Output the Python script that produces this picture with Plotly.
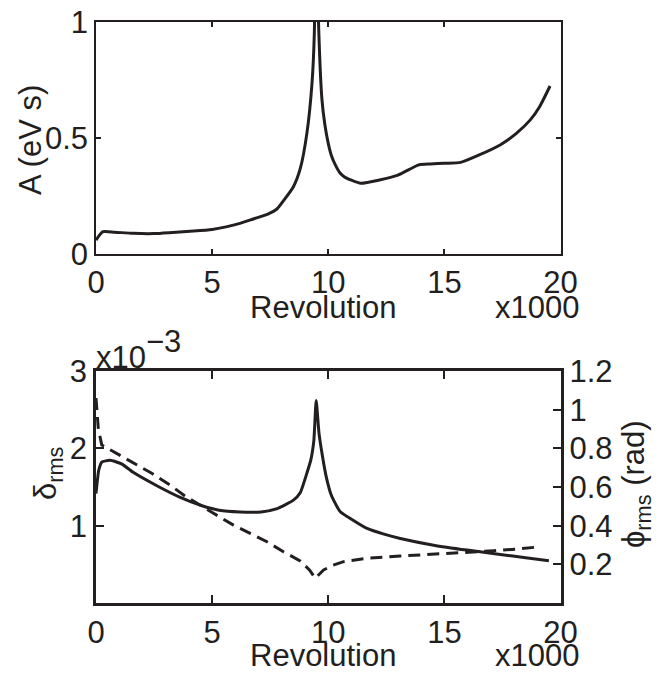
import plotly.graph_objects as go

# ---- data (revolution in units of 1000) ----
rev_A = [0, 0.3, 0.8, 1.6, 2.5, 3.3, 4.2, 5.0, 5.6, 6.2, 6.8, 7.4, 7.8, 8.1, 8.5, 8.8,
         9.08, 9.3, 9.4, 9.48, 9.58, 9.73, 9.85, 10.0, 10.15, 10.3, 10.5, 10.7, 11.0,
         11.4, 12.2, 13.0, 13.9, 14.4, 15.0, 15.7, 16.5, 17.4, 18.1, 18.7, 19.1, 19.55]
A_eVs = [0.06, 0.096, 0.094, 0.089, 0.088, 0.093, 0.099, 0.106, 0.117, 0.132, 0.152,
         0.172, 0.195, 0.233, 0.29, 0.37, 0.52, 0.735, 0.95, 1.6, 1.0, 0.664, 0.56,
         0.477, 0.42, 0.385, 0.35, 0.332, 0.318, 0.305, 0.319, 0.34, 0.384, 0.388,
         0.391, 0.395, 0.427, 0.47, 0.52, 0.578, 0.635, 0.724]

rev_delta = [0, 0.12, 0.25, 0.6, 1.1, 1.6, 2.6, 3.6, 4.6, 5.3, 6.2, 7.1, 7.8, 8.5, 8.8,
             9.05, 9.25, 9.38, 9.48, 9.6, 9.75, 9.9, 10.1, 10.23, 10.52, 10.95, 11.67,
             12.4, 13.1, 14.54, 15.98, 17.41, 18.5, 19.5]
delta_rms_e3 = [1.415, 1.72, 1.823, 1.845, 1.80, 1.69, 1.52, 1.37, 1.255, 1.2, 1.178,
                1.178, 1.22, 1.33, 1.43, 1.65, 1.85, 2.1, 2.62, 2.2, 1.9, 1.65, 1.42,
                1.33, 1.18, 1.093, 0.964, 0.89, 0.835, 0.748, 0.684, 0.628, 0.585, 0.546]

rev_phi = [0, 0.1, 0.25, 0.75, 1.61, 2.4, 3.19, 3.84, 5.06, 5.92, 6.64, 7.36, 8.07, 8.79,
           9.2, 9.44, 9.8, 10.2, 10.66, 11.67, 13.1, 14.54, 15.69, 17.13, 18.2, 19.14]
phi_rms = [1.06, 0.9, 0.817, 0.783, 0.726, 0.671, 0.61, 0.553, 0.464, 0.403, 0.36, 0.317,
           0.265, 0.218, 0.17, 0.128, 0.171, 0.195, 0.214, 0.231, 0.243, 0.252, 0.26,
           0.27, 0.28, 0.291]

x_ticks = [0, 5, 10, 15, 20]
A_ticks = [0, 0.5, 1]
A_ticktext = ["0", "0.5", "1"]
delta_ticks = [1, 2, 3]
phi_ticks = [0.2, 0.4, 0.6, 0.8, 1.0, 1.2]
phi_ticktext = ["0.2", "0.4", "0.6", "0.8", "1", "1.2"]

W, H = 668, 673
INK = "#231f20"
FONT = "Liberation Sans, Arial, Helvetica, sans-serif"
FS = 31

def px_x(p):
    return p / W

def px_y(p):
    return 1 - p / H

fig = go.Figure()
fig.add_trace(go.Scatter(x=rev_A, y=A_eVs, mode="lines", xaxis="x", yaxis="y",
                         line=dict(color=INK, width=3, shape="spline", smoothing=0.6),
                         showlegend=False))
fig.add_trace(go.Scatter(x=rev_delta, y=delta_rms_e3, mode="lines", xaxis="x2", yaxis="y2",
                         line=dict(color=INK, width=3, shape="spline", smoothing=0.5),
                         showlegend=False))
fig.add_trace(go.Scatter(x=rev_phi, y=phi_rms, mode="lines", xaxis="x2", yaxis="y3",
                         line=dict(color=INK, width=3, dash="12px,7px"), showlegend=False))

tickfont = dict(family=FONT, size=FS, color=INK)
xdom = [px_x(96), px_x(560.5)]
common_x = dict(range=[0, 20], tickvals=x_ticks, ticks="inside", showline=True,
                linecolor=INK, tickcolor=INK, showgrid=False, zeroline=False,
                tickfont=tickfont, domain=xdom, automargin=False)

fig.update_layout(
    width=W, height=H, margin=dict(l=0, r=0, t=0, b=0),
    paper_bgcolor="white", plot_bgcolor="white",
    xaxis=dict(**common_x, anchor="y", mirror="ticks", ticklen=5, linewidth=1.5, tickwidth=1.5),
    yaxis=dict(domain=[px_y(254), px_y(22)], range=[0, 1], tickvals=A_ticks,
               ticktext=A_ticktext, ticks="inside", ticklen=5, showline=True,
               linecolor=INK, linewidth=1.5, tickcolor=INK, tickwidth=1.5, mirror="ticks",
               showgrid=False, zeroline=False, tickfont=tickfont, anchor="x",
               automargin=False),
    xaxis2=dict(**common_x, anchor="y2", mirror="ticks", ticklen=8, linewidth=2.5, tickwidth=2),
    yaxis2=dict(domain=[px_y(603), px_y(371)], range=[0, 3], tickvals=delta_ticks,
                ticks="inside", ticklen=8, showline=True, linecolor=INK, linewidth=2.5,
                tickcolor=INK, tickwidth=2, showgrid=False, zeroline=False,
                tickfont=tickfont, anchor="x2", automargin=False),
    yaxis3=dict(range=[0, 1.2], tickvals=phi_ticks, ticktext=phi_ticktext,
                overlaying="y2", side="right", anchor="x2", ticks="inside", ticklen=8,
                showline=True, linecolor=INK, linewidth=2.5, tickcolor=INK, tickwidth=2,
                showgrid=False, zeroline=False, tickfont=tickfont, automargin=False),
)

anns = [
    dict(text="Revolution", x=px_x(323), y=px_y(308), xanchor="center", yanchor="middle"),
    dict(text="x1000", x=px_x(580), y=px_y(308), xanchor="right", yanchor="middle"),
    dict(text="Revolution", x=px_x(323), y=px_y(655), xanchor="center", yanchor="middle"),
    dict(text="x1000", x=px_x(580), y=px_y(655), xanchor="right", yanchor="middle"),
    dict(text="A (eV s)", x=px_x(30), y=px_y(140), xanchor="center", yanchor="middle",
         textangle=-90),
    dict(text="δ<sub>rms</sub>", x=px_x(48), y=px_y(473), xanchor="center",
         yanchor="middle", textangle=-90),
    dict(text="ϕ<sub>rms</sub> (rad)", x=px_x(636), y=px_y(484), xanchor="center",
         yanchor="middle", textangle=-90),
    dict(text="x10", x=px_x(95), y=px_y(357), xanchor="left", yanchor="middle"),
    dict(text="−3", x=px_x(145), y=px_y(341), xanchor="left", yanchor="middle"),
]
for a in anns:
    a.update(xref="paper", yref="paper", showarrow=False,
             font=dict(family=FONT, size=FS, color=INK), borderpad=0)
    fig.add_annotation(**a)

fig.write_html("out.html")
